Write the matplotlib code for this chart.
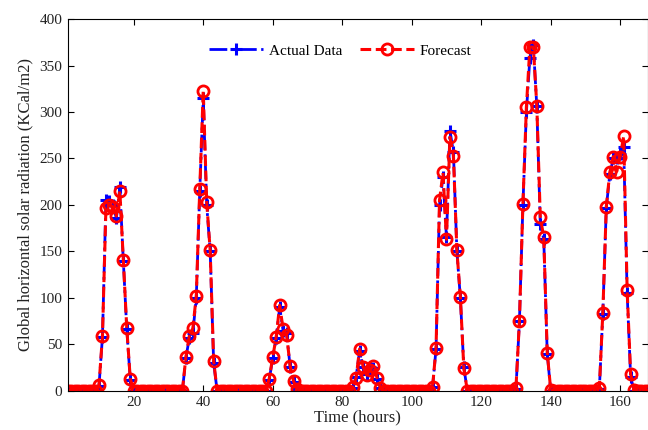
import numpy as np
import matplotlib
matplotlib.use("Agg")
import matplotlib.pyplot as plt

plt.rcParams['font.family'] = ['Liberation Serif', 'DejaVu Serif']

# hourly values, one list of 24 per day (hours 1..168)
actual_day1 = [0, 0, 0, 0, 0, 0, 0, 0, 0, 5, 58, 205, 204, 200, 186, 219, 140, 66, 12, 0, 0, 0, 0, 0]
actual_day2 = [0, 0, 0, 0, 0, 0, 0, 0, 0, 0, 35, 57, 62, 100, 215, 315, 200, 150, 30, 0, 0, 0, 0, 0]
actual_day3 = [0, 0, 0, 0, 0, 0, 0, 0, 0, 0, 12, 35, 57, 90, 64, 62, 26, 9, 2, 0, 0, 0, 0, 0]
actual_day4 = [0, 0, 0, 0, 0, 0, 0, 0, 0, 0, 3, 15, 43, 25, 18, 25, 24, 13, 3, 0, 0, 0, 0, 0]
actual_day5 = [0, 0, 0, 0, 0, 0, 0, 0, 0, 4, 45, 200, 230, 165, 280, 257, 150, 100, 25, 0, 0, 0, 0, 0]
actual_day6 = [0, 0, 0, 0, 0, 0, 0, 0, 0, 2, 75, 200, 300, 358, 372, 306, 180, 163, 40, 0, 0, 0, 0, 0]
actual_day7 = [0, 0, 0, 0, 0, 0, 0, 0, 0, 2, 83, 197, 233, 250, 250, 255, 262, 105, 15, 0, 0, 0, 0, 0]

forecast_day1 = [0, 0, 0, 0, 0, 0, 0, 0, 0, 6, 59, 197, 200, 198, 188, 215, 141, 67, 13, 0, 0, 0, 0, 0]
forecast_day2 = [0, 0, 0, 0, 0, 0, 0, 0, 0, 0, 36, 59, 67, 102, 217, 323, 203, 151, 32, 0, 0, 0, 0, 0]
forecast_day3 = [0, 0, 0, 0, 0, 0, 0, 0, 0, 0, 13, 36, 58, 92, 66, 60, 27, 10, 2, 0, 0, 0, 0, 0]
forecast_day4 = [0, 0, 0, 0, 0, 0, 0, 0, 0, 0, 4, 14, 45, 26, 17, 22, 27, 14, 3, 0, 0, 0, 0, 0]
forecast_day5 = [0, 0, 0, 0, 0, 0, 0, 0, 0, 4, 46, 205, 235, 163, 273, 253, 151, 101, 24, 0, 0, 0, 0, 0]
forecast_day6 = [0, 0, 0, 0, 0, 0, 0, 0, 0, 3, 75, 201, 305, 370, 370, 307, 187, 165, 41, 1, 0, 0, 0, 0]
forecast_day7 = [0, 0, 0, 0, 0, 0, 0, 0, 0, 3, 84, 198, 235, 252, 236, 252, 274, 108, 18, 1, 0, 0, 0, 0]

actual = np.concatenate([actual_day1, actual_day2, actual_day3, actual_day4,
                         actual_day5, actual_day6, actual_day7])
forecast = np.concatenate([forecast_day1, forecast_day2, forecast_day3, forecast_day4,
                           forecast_day5, forecast_day6, forecast_day7])
hours = np.arange(1, len(actual) + 1)

fig = plt.figure(figsize=(6.48, 4.30), dpi=100)
ax = fig.add_axes([0.1045, 0.0914, 0.8955, 0.864])

ax.plot(hours, actual, color='blue', linestyle='-.', linewidth=2,
        marker='+', markersize=8, markeredgewidth=2.2, label='Actual Data')
ax.plot(hours, forecast, color='red', linestyle=(0, (3.5, 1.5)), linewidth=2.2,
        marker='o', markersize=8, markerfacecolor='none', markeredgewidth=2,
        label='Forecast')

ax.set_xlim(1, 168)
ax.set_ylim(0, 400)
ax.set_xticks(np.arange(20, 161, 20))
ax.set_yticks(np.arange(0, 401, 50))
ax.tick_params(direction='in', top=True, right=True, labelsize=11, length=4,
               pad=4, labelcolor='#222222')
for sp in ax.spines.values():
    sp.set_linewidth(0.8)

ax.set_xlabel('Time (hours)', fontsize=12, labelpad=0, color='#222222')
ax.set_ylabel('Global horizontal solar radiation (KCal/m2)', fontsize=12,
              labelpad=4, color='#222222')

ax.legend(loc='upper center', bbox_to_anchor=(0.47, 0.97), ncol=2, frameon=False,
          fontsize=11, handlelength=3.5, columnspacing=1.2, handletextpad=0.4)

fig.savefig('out.png', dpi=100)
